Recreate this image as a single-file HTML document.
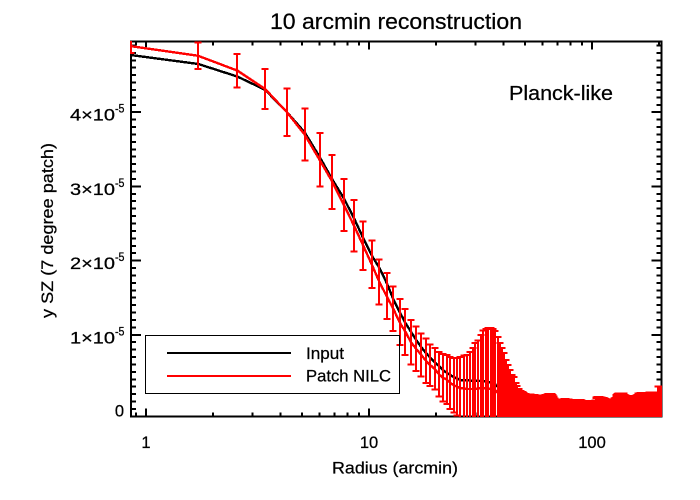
<!DOCTYPE html>
<html>
<head>
<meta charset="utf-8">
<title>10 arcmin reconstruction</title>
<style>
html,body{margin:0;padding:0;background:#fff;width:700px;height:500px;overflow:hidden}
svg{display:block}
text{font-family:"Liberation Sans",sans-serif;fill:#000;stroke:#000;stroke-width:0.25px}
</style>
</head>
<body>
<svg id="chart" width="700" height="500" viewBox="0 0 700 500">
<defs><clipPath id="plot-clip"><rect x="130" y="41" width="532" height="376"></rect></clipPath></defs>
<rect x="0" y="0" width="700" height="500" fill="#fff"></rect>
<text x="270" y="29" font-size="22" textLength="252" lengthAdjust="spacingAndGlyphs">10 arcmin reconstruction</text>
<text x="509" y="100" font-size="20" textLength="104" lengthAdjust="spacingAndGlyphs">Planck-like</text>
<text x="332" y="473.5" font-size="17" textLength="126" lengthAdjust="spacingAndGlyphs">Radius (arcmin)</text>
<text x="0" y="0" font-size="17" textLength="175" lengthAdjust="spacingAndGlyphs" transform="translate(53 318) rotate(-90)">y SZ (7 degree patch)</text>
<g id="axes"></g>
<g id="series" clip-path="url(#plot-clip)"></g>
<g>
<rect x="145.5" y="335.5" width="254" height="58" fill="none" stroke="#000" stroke-width="1" shape-rendering="crispEdges"></rect>
<line x1="167" y1="353" x2="291" y2="353" stroke="#000" stroke-width="2" shape-rendering="crispEdges"></line>
<line x1="167" y1="376" x2="291" y2="376" stroke="#f00" stroke-width="2" shape-rendering="crispEdges"></line>
<text x="306" y="359" font-size="17" textLength="38" lengthAdjust="spacingAndGlyphs">Input</text>
<text x="306" y="381.5" font-size="17" textLength="85" lengthAdjust="spacingAndGlyphs">Patch NILC</text>
</g>
</svg>
<script>
// Radial bins are regular; width in arcmin.
const binWidth = 0.857;
// Values in units of 1e-5.
const inputProfile = [
4.77,4.65,4.48,4.30,4.00,3.73,3.40,3.09,2.84,2.57,
2.30,2.07,1.90,1.70,1.48,1.31,1.16,1.04,0.93,0.835,
0.755,0.69,0.63,0.58,0.525,0.49,0.458,0.43,0.41,0.39,
0.39,0.385,0.385,0.38,0.38,0.38,0.375,0.375,0.37,0.365,
0.36,0.35,0.33,0.30,0.27,0.24,0.21,0.18,0.15,0.13,
0.11,0.09,0.075,0.06,0.05,0.04,0.035,0.03,0.03,0.03,
0.03,0.03,0.03,0.03,0.03,0.03,0.03,0.03,0.03,0.03,
0.03,0.03,0.03,0.03,0.03,0.03,0.03,0.03,0.03,0.03,
0.03,0.03,0.03,0.03,0.03,0.03,0.03,0.03,0.03,0.03,
0.02,0.02,0.02,0.02,0.02,0.02,0.02,0.02,0.02,0.02,
0.02,0.02,0.02,0.02,0.02,0.02,0.02,0.02,0.02,0.02,
0.02,0.02,0.02,0.02,0.02,0.02,0.02,0.02,0.02,0.02,
0.02,0.02,0.02,0.02,0.02,0.02,0.02,0.02,0.02,0.02,
0.02,0.02,0.02,0.02,0.02,0.02,0.02,0.02,0.02,0.02,
0.02,0.02,0.02,0.02,0.02,0.02,0.02,0.02,0.02,0.02,
0.01,0.01,0.01,0.01,0.01,0.01,0.01,0.01,0.01,0.01,
0.01,0.01,0.01,0.01,0.01,0.01,0.01,0.01,0.01,0.01,
0.01,0.01,0.01,0.01,0.01,0.01,0.01,0.01,0.01,0.01,
0.01,0.01,0.01,0.01,0.01,0.01,0.01,0.01,0.01,0.01,
0.01,0.01,0.01,0.01,0.01,0.01,0.01,0.01,0.01,0.01,
0.01,0.01,0.01,0.01,0.01,0.01,0.01,0.01,0.01,0.01,
0.01,0.01,0.01,0.01,0.01,0.01,0.01,0.01,0.01,0.01,
0.01,0.01,0.01,0.01,0.01,0.01,0.01,0.01,0.01,0.01,
0.01,0.01,0.01,0.01,0.01,0.01,0.01,0.01
];
const nilcProfile = [
4.89,4.76,4.56,4.31,4.00,3.70,3.36,3.06,2.75,2.47,
2.20,1.95,1.71,1.52,1.35,1.17,1.04,0.90,0.81,0.73,
0.65,0.59,0.54,0.47,0.42,0.40,0.35,0.32,0.30,0.28,
0.28,0.27,0.27,0.27,0.27,0.28,0.28,0.28,0.28,0.28,
0.27,0.26,0.25,0.22,0.20,0.17,0.14,0.11,0.08,0.06,
0.04,0.03,-0.01,-0.01,-0.01,-0.01,-0.01,-0.01,-0.01,-0.01,
-0.01,-0.01,-0.01,-0.01,-0.01,-0.01,-0.01,-0.01,-0.01,-0.01,
-0.01,-0.01,-0.01,-0.01,-0.01,-0.01,-0.01,-0.01,-0.01,-0.01,
-0.01,-0.01,-0.01,-0.01,-0.01,-0.01,-0.01,-0.01,-0.01,-0.01,
-0.01,-0.01,-0.01,-0.01,-0.01,-0.01,-0.01,-0.01,-0.01,-0.01,
-0.01,-0.01,-0.01,-0.01,-0.01,-0.01,-0.01,-0.01,-0.01,-0.01,
-0.01,-0.01,-0.01,-0.01,-0.01,-0.01,-0.01,-0.01,-0.01,-0.01,
-0.01,-0.01,-0.01,-0.01,-0.01,-0.01,-0.01,-0.01,-0.01,-0.01,
-0.01,-0.01,-0.01,-0.01,-0.01,-0.01,-0.01,-0.01,-0.01,-0.01,
-0.01,-0.01,-0.01,-0.01,-0.01,-0.01,-0.01,-0.01,-0.01,-0.01,
-0.01,-0.01,-0.01,-0.01,-0.01,-0.01,-0.01,-0.01,-0.01,-0.01,
-0.01,-0.01,-0.01,-0.01,-0.01,-0.01,-0.01,-0.01,-0.01,-0.01,
-0.01,-0.01,-0.01,-0.01,-0.01,-0.01,-0.01,-0.01,-0.01,-0.01,
-0.01,-0.01,-0.01,-0.01,-0.01,-0.01,-0.01,-0.01,-0.01,-0.01,
-0.01,-0.01,-0.01,-0.01,-0.01,-0.01,-0.01,-0.01,-0.01,-0.01,
-0.01,-0.01,-0.01,-0.01,-0.01,-0.01,-0.01,-0.01,-0.01,-0.01,
-0.01,-0.01,-0.01,-0.01,-0.01,-0.01,-0.01,-0.01,-0.01,-0.01,
-0.01,-0.01,-0.01,-0.01,-0.01,-0.01,-0.01,-0.01,-0.01,-0.01,
-0.01,-0.01,-0.01,-0.01,-0.01,-0.01,-0.01,-0.01
];
const nilcError = [
0.09,0.18,0.225,0.27,0.32,0.35,0.36,0.365,0.35,0.345,
0.325,0.32,0.303,0.31,0.30,0.31,0.31,0.30,0.30,0.29,
0.30,0.28,0.28,0.30,0.32,0.33,0.35,0.37,0.39,0.42,
0.44,0.46,0.50,0.55,0.62,0.64,0.72,0.78,0.80,0.81,
0.82,0.82,0.80,0.75,0.69,0.65,0.615,0.55,0.51,0.465,
0.418,0.40,0.36,0.32,0.28,0.253,0.239,0.225,0.21,0.208,
0.205,0.205,0.20,0.20,0.20,0.19,0.19,0.185,0.185,0.185,
0.195,0.20,0.205,0.21,0.21,0.21,0.21,0.20,0.18,0.15,
0.13,0.13,0.13,0.135,0.14,0.14,0.145,0.145,0.145,0.14,
0.14,0.135,0.13,0.13,0.13,0.13,0.13,0.13,0.13,0.13,
0.13,0.125,0.13,0.13,0.125,0.12,0.12,0.12,0.12,0.12,
0.12,0.115,0.115,0.115,0.11,0.11,0.105,0.105,0.11,0.125,
0.16,0.165,0.17,0.17,0.17,0.17,0.17,0.165,0.165,0.16,
0.16,0.155,0.15,0.15,0.145,0.14,0.14,0.135,0.135,0.13,
0.13,0.13,0.13,0.13,0.135,0.14,0.15,0.16,0.18,0.20,
0.21,0.215,0.22,0.22,0.22,0.22,0.22,0.22,0.22,0.22,
0.22,0.22,0.21,0.20,0.19,0.185,0.185,0.185,0.185,0.185,
0.185,0.185,0.185,0.185,0.185,0.185,0.185,0.185,0.185,0.185,
0.185,0.185,0.185,0.19,0.19,0.20,0.21,0.22,0.22,0.22,
0.225,0.225,0.225,0.225,0.225,0.225,0.225,0.225,0.225,0.225,
0.225,0.225,0.225,0.225,0.225,0.225,0.225,0.225,0.225,0.225,
0.23,0.23,0.23,0.23,0.23,0.23,0.23,0.23,0.23,0.23,
0.23,0.23,0.23,0.23,0.23,0.23,0.23,0.23,0.23,0.23,
0.31,0.31,0.31,0.31,0.31,0.31,0.31,0.31
];
const xMajorTicks = [1, 10, 100];
const xMinorTicks = [0.9,2,3,4,5,6,7,8,9,20,30,40,50,60,70,80,90,200];
const xTickLabels = ["1", "10", "100"];
const yMajorTicks = [1, 2, 3, 4];
const yMinorTicks = [0,0.1,0.2,0.3,0.4,0.5,0.6,0.7,0.8,0.9,1.1,1.2,1.3,1.4,1.5,1.6,1.7,1.8,1.9,2.1,2.2,2.3,2.4,2.5,2.6,2.7,2.8,2.9,3.1,3.2,3.3,3.4,3.5,3.6,3.7,3.8,3.9,4.1,4.2,4.3,4.4,4.5,4.6,4.7,4.8,4.9];
const yTickLabels = ["1×10", "2×10", "3×10", "4×10"];

const NS = 'http://www.w3.org/2000/svg';
const axisLeft = 131, axisRight = 661.5, axisTop = 41.5, axisBottom = 416.7;
function xScale(r) { return 146 + 223 * Math.log10(r); }
function yScale(v) { return 409 - 74.2 * v; }
function make(tag, parent, attrs, text) {
  const el = document.createElementNS(NS, tag);
  for (const k in attrs) el.setAttribute(k, attrs[k]);
  if (text !== undefined) el.textContent = text;
  parent.appendChild(el);
  return el;
}
const axes = document.getElementById('axes');
const series = document.getElementById('series');

function tick(x1, y1, x2, y2, name) {
  const t = make('line', axes, {x1: x1, y1: y1, x2: x2, y2: y2, stroke: '#000', 'stroke-width': 2, 'shape-rendering': 'crispEdges'});
  
  
}
xMajorTicks.forEach(function (v, i) {
  const x = xScale(v);
  tick(x, axisBottom, x, axisBottom - 8, 'x-major-tick');
  tick(x, axisTop, x, axisTop + 8, 'x-major-tick-top');
  const lab = make('text', axes, {x: x, y: 448, 'font-size': 16.5, 'text-anchor': 'middle'}, xTickLabels[i]);
  
  
});
xMinorTicks.forEach(function (v) {
  const x = xScale(v);
  tick(x, axisBottom, x, axisBottom - 4, 'x-minor-tick');
  tick(x, axisTop, x, axisTop + 4, 'x-minor-tick-top');
});
yMinorTicks.forEach(function (v) {
  const y = yScale(v);
  tick(axisLeft, y, axisLeft + 5, y, 'y-minor-tick');
  tick(axisRight, y, axisRight - 5, y, 'y-minor-tick-right');
});
yMajorTicks.forEach(function (v, i) {
  const y = yScale(v);
  tick(axisLeft, y, axisLeft + 10, y, 'y-major-tick');
  tick(axisRight, y, axisRight - 10, y, 'y-major-tick-right');
  const lab = make('text', axes, {x: 70, y: y + 8.5, 'font-size': 16.5, textLength: 45, lengthAdjust: 'spacingAndGlyphs'}, yTickLabels[i]);
  
  
  const exp = make('text', axes, {x: 115, y: y + 0.5, 'font-size': 12, textLength: 9.5, lengthAdjust: 'spacingAndGlyphs'}, '-5');
  
  
});
const zeroLabel = make('text', axes, {x: 124, y: 416.5, 'font-size': 16.5, 'text-anchor': 'end'}, '0');


const frame = make('rect', axes, {x: axisLeft, y: axisTop, width: axisRight - axisLeft, height: axisBottom - axisTop, fill: 'none', stroke: '#000', 'stroke-width': 2, 'shape-rendering': 'crispEdges'});



function pointsFor(values) {
  return values.map(function (v, i) { return xScale(binWidth * (i + 1)).toFixed(2) + ',' + yScale(v).toFixed(2); }).join(' ');
}
const blackLine = make('polyline', series, {points: pointsFor(inputProfile), fill: 'none', stroke: '#000', 'stroke-width': 2.4, 'shape-rendering': 'crispEdges'});


const redLine = make('polyline', series, {points: pointsFor(nilcProfile), fill: 'none', stroke: '#f00', 'stroke-width': 2.4, 'shape-rendering': 'crispEdges'});



nilcProfile.forEach(function (v, i) {
  const x = Math.round(xScale(binWidth * (i + 1)));
  const top = yScale(v + nilcError[i]);
  const bot = yScale(v - nilcError[i]);
  const d = 'M' + x + ' ' + top.toFixed(1) + 'V' + bot.toFixed(1) +
            'M' + (x - 3.5) + ' ' + top.toFixed(1) + 'H' + (x + 3.5) +
            'M' + (x - 3.5) + ' ' + bot.toFixed(1) + 'H' + (x + 3.5);
  const bar = make('path', series, {d: d, fill: 'none', stroke: '#f00', 'stroke-width': 2, 'shape-rendering': 'crispEdges'});
  
  
});
</script>
</body>
</html>
